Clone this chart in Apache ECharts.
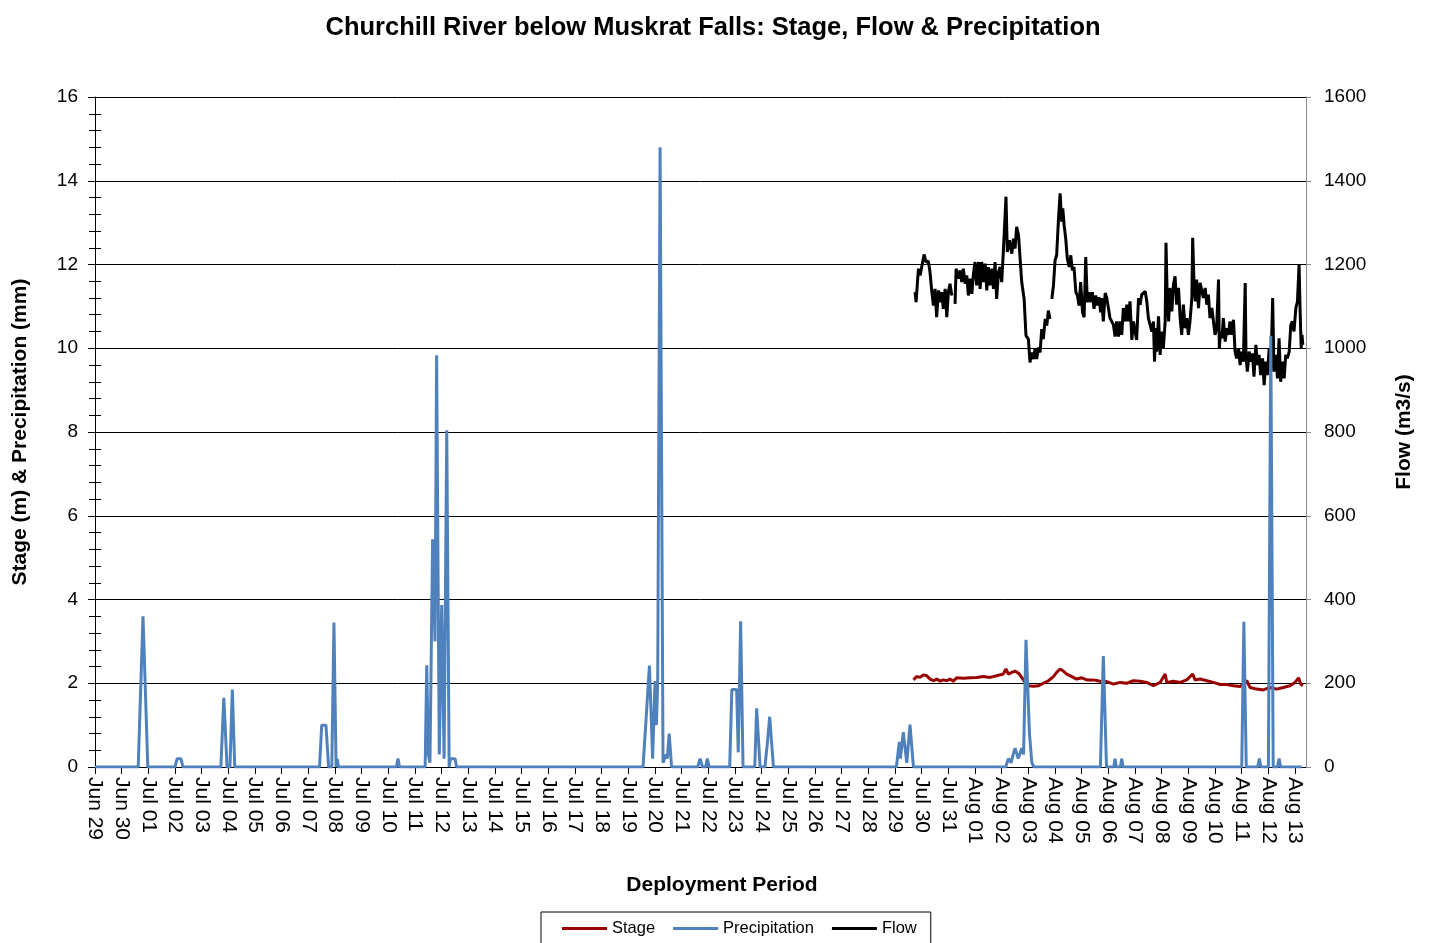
<!DOCTYPE html>
<html>
<head>
<meta charset="utf-8">
<script src="https://cdn.jsdelivr.net/npm/echarts@6/dist/echarts.min.js"></script>
<style>html,body{margin:0;padding:0;background:#fff;}#c{width:1431px;height:943px;}</style>
</head>
<body>
<div id="c"></div>
<script>
// x values are days since Jun 29 (0 = Jun 29 00:00)
const dayLabels = ["Jun 29","Jun 30",
 "Jul 01","Jul 02","Jul 03","Jul 04","Jul 05","Jul 06","Jul 07","Jul 08","Jul 09","Jul 10",
 "Jul 11","Jul 12","Jul 13","Jul 14","Jul 15","Jul 16","Jul 17","Jul 18","Jul 19","Jul 20",
 "Jul 21","Jul 22","Jul 23","Jul 24","Jul 25","Jul 26","Jul 27","Jul 28","Jul 29","Jul 30","Jul 31",
 "Aug 01","Aug 02","Aug 03","Aug 04","Aug 05","Aug 06","Aug 07","Aug 08","Aug 09","Aug 10",
 "Aug 11","Aug 12","Aug 13"];

const leftTicks = [0, 16, 2];      // min, max, interval  (Stage m & Precipitation mm)
const rightTicks = [0, 1600, 200]; // min, max, interval  (Flow m3/s)

const precipitation = [
 [0,0],
 [1.62,0],[1.8,3.6],[1.98,0],
 [3.0,0],[3.08,0.2],[3.22,0.2],[3.3,0],
 [4.72,0],[4.83,1.65],[4.88,1.0],[4.95,0],[5.06,0],[5.15,1.85],[5.24,0],
 [8.42,0],[8.5,1.0],[8.66,1.0],[8.76,0],[8.88,0],[8.96,3.45],[9.04,0],[9.08,0.2],[9.13,0],
 [11.3,0],[11.36,0.2],[11.42,0],
 [12.38,0],[12.44,2.43],[12.5,0.3],[12.56,0.1],[12.66,5.44],[12.75,3.0],[12.81,9.83],[12.91,0.3],[13.0,3.87],[13.09,0.2],[13.19,8.04],[13.28,0],[13.33,0.2],[13.5,0.2],[13.56,0],
 [20.55,0],[20.63,0.8],[20.79,2.42],[20.91,0.2],[21.0,2.05],[21.05,1.0],[21.1,2.0],[21.19,14.8],[21.3,0.1],[21.42,0.3],[21.46,0.2],[21.53,0.8],[21.62,0],
 [22.6,0],[22.69,0.2],[22.78,0],[22.9,0],[22.96,0.2],[23.03,0],
 [23.8,0],[23.88,1.85],[24.06,1.85],[24.12,0.35],[24.21,3.48],[24.3,0],
 [24.74,0],[24.81,1.4],[24.87,1.4],[24.94,0],
 [25.12,0],[25.21,0.55],[25.3,1.2],[25.36,1.2],[25.44,0],
 [30.05,0],[30.16,0.6],[30.2,0.2],[30.31,0.83],[30.44,0.1],[30.56,1.01],[30.69,0],
 [34.15,0],[34.25,0.2],[34.35,0.1],[34.43,0.3],[34.5,0.45],[34.62,0.2],[34.75,0.45],[34.82,0.3],[34.91,3.04],[35.04,0.8],[35.13,0.1],[35.21,0],
 [37.7,0],[37.81,2.65],[37.93,0],[38.2,0],[38.25,0.2],[38.3,0],[38.45,0],[38.5,0.2],[38.55,0],
 [43.0,0],[43.08,3.47],[43.17,0],[43.6,0],[43.66,0.2],[43.72,0],[44.0,0],[44.09,10.3],[44.18,0],[44.34,0],[44.4,0.2],[44.46,0],
 [45.25,0]
];

const stage = [
 [30.69,2.08],[30.81,2.16],[30.94,2.14],[31.06,2.2],[31.19,2.18],[31.31,2.1],[31.44,2.06],[31.56,2.1],
 [31.69,2.05],[31.81,2.08],[31.94,2.06],[32.06,2.1],[32.19,2.05],[32.31,2.13],[32.56,2.12],[32.81,2.13],
 [33.06,2.14],[33.31,2.16],[33.56,2.14],[33.81,2.18],[34.06,2.22],[34.16,2.34],[34.25,2.22],[34.38,2.26],
 [34.5,2.29],[34.63,2.24],[34.75,2.14],[34.88,2.02],[35.0,1.94],[35.19,1.93],[35.38,1.94],[35.56,2.0],
 [35.75,2.06],[35.94,2.16],[36.06,2.26],[36.19,2.34],[36.31,2.29],[36.44,2.22],[36.63,2.16],[36.81,2.1],
 [37.0,2.13],[37.19,2.08],[37.44,2.08],[37.69,2.05],[37.94,2.04],[38.19,1.98],[38.44,2.02],[38.69,2.0],
 [38.94,2.06],[39.19,2.05],[39.44,2.02],[39.69,1.94],[39.94,2.02],[40.13,2.22],[40.19,2.02],[40.44,2.05],
 [40.69,2.02],[40.94,2.08],[41.16,2.22],[41.25,2.08],[41.44,2.1],[41.69,2.06],[41.94,2.02],[42.19,1.97],
 [42.44,1.97],[42.69,1.94],[42.94,1.92],[43.19,2.06],[43.31,1.9],[43.56,1.86],[43.81,1.84],[44.06,1.9],
 [44.31,1.86],[44.56,1.9],[44.81,1.94],[45.0,2.02],[45.13,2.13],[45.21,1.98],[45.29,1.94]
];

const flow = [
 [30.75,1134],[30.79,1110],[30.84,1158],[30.88,1190],[30.94,1174],[31.0,1194],[31.09,1224],[31.16,1206],
 [31.25,1208],[31.31,1182],[31.38,1134],[31.44,1102],[31.5,1142],[31.56,1074],[31.63,1138],[31.69,1110],
 [31.75,1134],[31.81,1094],[31.88,1142],[31.94,1074],[32.0,1134],[32.06,1154],[32.13,1126],[32.19,null],
 [32.25,1106],[32.29,1190],[32.38,1166],[32.44,1186],[32.5,1158],[32.56,1190],[32.63,1154],[32.69,1174],
 [32.75,1126],[32.81,1166],[32.88,1130],[32.94,1178],[33.0,1206],[33.06,1150],[33.13,1206],[33.19,1142],
 [33.25,1206],[33.31,1158],[33.38,1202],[33.44,1138],[33.5,1194],[33.56,1150],[33.63,1190],[33.69,1142],
 [33.75,1206],[33.81,1118],[33.88,1182],[33.94,1194],[34.0,1158],[34.06,1230],[34.16,1362],[34.21,1230],
 [34.29,1258],[34.38,1226],[34.44,1262],[34.5,1238],[34.56,1290],[34.63,1270],[34.69,1214],[34.75,1158],
 [34.84,1118],[34.91,1030],[35.0,1022],[35.06,966],[35.13,990],[35.19,974],[35.25,998],[35.31,974],
 [35.38,1002],[35.44,990],[35.5,1046],[35.56,1022],[35.63,1070],[35.69,1054],[35.75,1090],[35.81,1070],
 [35.84,null],
 [35.88,1118],[35.94,1150],[36.0,1210],[36.06,1222],[36.13,1310],[36.19,1370],[36.25,1302],[36.29,1334],
 [36.34,1294],[36.4,1262],[36.46,1214],[36.53,1194],[36.59,1222],[36.65,1186],[36.71,1194],[36.78,1134],
 [36.84,1126],[36.9,1102],[36.96,1158],[37.03,1086],[37.09,1074],[37.15,1218],[37.21,1110],[37.28,1134],
 [37.34,1110],[37.4,1134],[37.46,1094],[37.53,1126],[37.59,1102],[37.65,1122],[37.71,1086],
 [37.75,1120],[37.81,1064],[37.88,1132],[37.94,1120],[38.0,1096],[38.06,1072],[38.13,1072],[38.19,1056],
 [38.25,1028],[38.31,1064],[38.38,1028],[38.44,1064],[38.5,1032],[38.56,1096],[38.63,1064],[38.69,1104],
 [38.75,1064],[38.81,1112],[38.88,1020],[38.94,1064],[39.0,1040],[39.06,1020],[39.13,1120],[39.19,1104],
 [39.25,1128],[39.31,1132],[39.38,1136],[39.44,1112],[39.5,1072],[39.56,1072],[39.63,1040],[39.69,1064],
 [39.73,968],[39.78,1048],[39.81,992],[39.88,1076],[39.94,984],[40.0,1040],[40.06,1000],[40.13,1064],
 [40.16,1252],[40.21,1112],[40.26,1064],[40.31,1144],[40.38,1088],[40.44,1152],[40.5,1172],[40.56,1104],
 [40.63,1144],[40.69,1072],[40.75,1032],[40.81,1104],[40.88,1048],[40.94,1072],[41.0,1032],[41.06,1064],
 [41.13,1120],[41.16,1264],[41.21,1160],[41.26,1112],[41.31,1164],[41.38,1096],[41.44,1156],[41.5,1152],
 [41.56,1120],[41.63,1144],[41.69,1104],[41.75,1128],[41.81,1072],[41.88,1096],[41.94,1064],[42.0,1032],
 [42.06,1048],[42.13,1164],[42.16,1000],[42.21,1040],[42.26,1024],[42.31,1072],[42.38,1016],[42.44,1048],
 [42.5,1032],[42.56,1064],[42.63,1032],[42.69,1068],[42.75,992],[42.81,976],[42.88,1000],[42.94,960],
 [43.0,992],[43.06,968],[43.13,1156],[43.16,984],[43.21,944],[43.28,992],[43.34,968],[43.4,988],
 [43.46,932],[43.53,1008],[43.59,960],[43.65,984],[43.71,936],[43.78,976],[43.84,912],[43.9,968],
 [43.96,936],[44.03,1000],[44.09,944],[44.16,1120],[44.21,944],[44.28,984],[44.34,928],[44.4,1024],
 [44.46,920],[44.53,968],[44.59,928],[44.65,984],[44.71,976],[44.78,992],[44.84,1056],[44.9,1064],
 [44.96,1040],[45.03,1096],[45.09,1112],[45.15,1200],[45.19,1088],[45.23,1000],[45.26,1032],[45.29,1008]
];

const FONT = 'Liberation Sans, Arial, sans-serif';
const chart = echarts.init(document.getElementById('c'), null, {renderer: 'canvas'});
chart.setOption({
  animation: false,
  backgroundColor: '#fff',
  title: {
    text: 'Churchill River below Muskrat Falls: Stage, Flow & Precipitation',
    left: 708, top: 10, textAlign: 'center',
    textStyle: {fontFamily: FONT, fontWeight: 'bold', fontSize: 25.5, color: '#000'}
  },
  legend: {
    data: ['Stage', 'Precipitation', 'Flow'],
    left: 541, top: 912,
    padding: [8, 14, 9, 21],
    icon: 'rect',
    itemWidth: 45, itemHeight: 3, itemGap: 18,
    borderColor: '#000', borderWidth: 1,
    textStyle: {fontFamily: FONT, fontSize: 16.5, color: '#000'}
  },
  grid: {left: 95, right: 125, top: 97, bottom: 176, containLabel: false},
  xAxis: {
    type: 'value', min: 0, max: 45.41, interval: 1,
    name: 'Deployment Period', nameLocation: 'middle', nameGap: 108,
    nameTextStyle: {fontFamily: FONT, fontWeight: 'bold', fontSize: 21, color: '#000', padding: [0, 0, 0, 43]},
    axisLine: {show: true, lineStyle: {color: '#000', width: 1}},
    axisTick: {show: true, length: 7, lineStyle: {color: '#000'}},
    splitLine: {show: false},
    axisLabel: {
      rotate: -90, margin: 10, fontFamily: FONT, fontSize: 21, color: '#000',
      showMaxLabel: false,
      formatter: function (v) {
        const r = Math.round(v);
        return Math.abs(v - r) < 1e-6 && dayLabels[r] ? dayLabels[r] : '';
      }
    }
  },
  yAxis: [
    {
      type: 'value', position: 'left', min: leftTicks[0], max: leftTicks[1], interval: leftTicks[2],
      name: 'Stage (m) & Precipitation (mm)', nameLocation: 'middle', nameGap: 64, nameRotate: 90,
      nameTextStyle: {fontFamily: FONT, fontWeight: 'bold', fontSize: 21, color: '#000'},
      axisLine: {show: true, lineStyle: {color: '#000'}},
      axisTick: {show: true, length: 7, lineStyle: {color: '#000'}},
      minorTick: {show: true, splitNumber: 5, length: 6, lineStyle: {color: '#000'}},
      splitLine: {show: true, lineStyle: {color: '#000', width: 1}},
      axisLabel: {margin: 17, fontFamily: FONT, fontSize: 19, color: '#000'}
    },
    {
      type: 'value', position: 'right', min: rightTicks[0], max: rightTicks[1], interval: rightTicks[2],
      name: 'Flow (m3/s)', nameLocation: 'middle', nameGap: 88, nameRotate: 90,
      nameTextStyle: {fontFamily: FONT, fontWeight: 'bold', fontSize: 21, color: '#000'},
      axisLine: {show: true, lineStyle: {color: '#8c8c8c'}},
      axisTick: {show: true, length: 5, lineStyle: {color: '#8c8c8c'}},
      splitLine: {show: false},
      axisLabel: {margin: 18, fontFamily: FONT, fontSize: 19, color: '#000',
        formatter: function (v) { return String(v); }}
    },
    {
      type: 'value', position: 'left', min: leftTicks[0], max: leftTicks[1], interval: leftTicks[2],
      axisLine: {show: false},
      axisTick: {show: false, inside: true},
      minorTick: {show: true, splitNumber: 5, length: 6, lineStyle: {color: '#000'}},
      splitLine: {show: false},
      axisLabel: {show: false}
    }
  ],
  series: [
    {
      name: 'Stage', type: 'line', yAxisIndex: 0, data: stage, symbol: 'none',
      lineStyle: {color: '#990000', width: 3}, itemStyle: {color: '#990000'}, z: 2
    },
    {
      name: 'Flow', type: 'line', yAxisIndex: 1, data: flow, symbol: 'none', connectNulls: false,
      lineStyle: {color: '#000', width: 3}, itemStyle: {color: '#000'}, z: 3
    },
    {
      name: 'Precipitation', type: 'line', yAxisIndex: 0, data: precipitation, symbol: 'none',
      lineStyle: {color: '#4F81BD', width: 3}, itemStyle: {color: '#4F81BD'}, z: 4
    }
  ]
});
</script>
</body>
</html>
